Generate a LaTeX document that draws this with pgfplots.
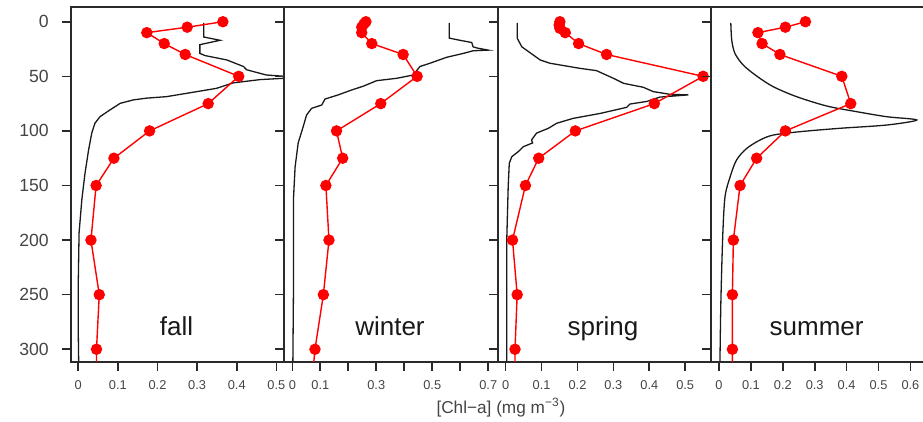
\documentclass[border=0pt]{standalone}
\usepackage{fontspec}
\setmainfont{Liberation Sans}
\usepackage{pgfplots}
\pgfplotsset{compat=1.18}
\definecolor{axgray}{HTML}{2A2A2A}
\definecolor{lblgray}{HTML}{444444}
\pgfplotsset{
  panel/.style={
    scale only axis, width=106.75pt, height=177.35pt,
    anchor=north west,
    y dir=reverse, ymin=-13.5, ymax=311.4,
    ytick={0,50,...,300}, ytick pos=left, xtick pos=bottom,
    tick align=outside, major tick length=4.5pt,
    axis line style={line width=0.8pt, draw=axgray},
    tick style={line width=0.8pt, draw=axgray},
    yticklabels={},
    x tick label style={font=\fontsize{6.4}{7}\selectfont, text=lblgray, yshift=-1.5pt},
    y tick label style={font=\fontsize{8.8}{10}\selectfont, text=lblgray, xshift=-3pt},
    /pgf/number format/assume math mode=true,
  },
  prof/.style={black!90, no marks, line width=0.65pt},
  bottle/.style={red, mark=*, mark size=2.5pt, line width=0.7pt,
    mark options={draw=red, fill=red}},
}
\tikzset{season/.style={anchor=base, font=\fontsize{13}{15}\selectfont, text=black!90}}
\begin{document}
\begin{tikzpicture}
% fall
\begin{axis}[panel, at={(35.375pt,-3.5pt)}, xmin=-0.019, xmax=0.520,
  xtick={0,0.1,0.2,0.3,0.4,0.5}, xticklabels={0,0.1,0.2,0.3,0.4,0.5},
  yticklabels={0,50,100,150,200,250,300}]
\addplot[prof] coordinates {
  (0.317,1) (0.317,14) (0.358,17) (0.307,21) (0.307,29) (0.320,31) (0.375,35)
  (0.417,41) (0.425,44) (0.475,48.8) (0.56,51) (0.459,53) (0.391,56) (0.349,61)
  (0.273,65.6) (0.223,68.6) (0.172,70) (0.139,71.6) (0.106,74.7) (0.080,80.8)
  (0.055,86.9) (0.042,93) (0.034,102) (0.026,117.5) (0.017,138.8) (0.009,163)
  (0.002,193.5) (0.0,239) (0.0,285) (0.001,311)
};
\addplot[bottle] coordinates {
  (0.365,0) (0.275,5) (0.173,10) (0.217,20) (0.270,30) (0.405,50) (0.328,75)
  (0.180,100) (0.090,125) (0.045,150) (0.032,200) (0.053,250) (0.046,300) (0.046,350)
};
\node[season] at (axis cs:0.248,287.4) {fall};
\end{axis}
% winter
\begin{axis}[panel, at={(142.125pt,-3.5pt)}, xmin=-0.0288, xmax=0.734,
  xtick={0,0.1,0.2,0.3,0.4,0.5,0.6,0.7}, xticklabels={0,0.1,,0.3,,0.5,,0.7}]
\addplot[prof] coordinates {
  (0.561,1) (0.561,15) (0.599,17) (0.641,19) (0.646,23) (0.659,24) (0.70,26)
  (0.646,26.6) (0.611,29) (0.551,32.6) (0.492,38) (0.456,41) (0.432,48.8)
  (0.373,51.8) (0.301,54) (0.254,59) (0.212,62.5) (0.164,67) (0.117,70.8)
  (0.105,76.3) (0.069,79.3) (0.051,85.4) (0.039,96) (0.021,111) (0.010,133)
  (0.004,163) (0.004,250) (0.002,311)
};
\addplot[bottle] coordinates {
  (0.263,0) (0.256,2) (0.248,5) (0.248,10) (0.284,20) (0.396,30) (0.446,50)
  (0.316,75) (0.158,100) (0.180,125) (0.120,150) (0.131,200) (0.111,250)
  (0.081,300) (0.063,350)
};
\node[season] at (axis cs:0.349,287.4) {winter};
\end{axis}
% spring
\begin{axis}[panel, at={(248.875pt,-3.5pt)}, xmin=-0.0221, xmax=0.5726,
  xtick={0,0.1,0.2,0.3,0.4,0.5}, xticklabels={0,0.1,0.2,0.3,0.4,0.5}]
\addplot[prof] coordinates {
  (0.032,1) (0.032,15) (0.045,23) (0.077,30.5) (0.096,35) (0.123,38) (0.207,42.7)
  (0.253,44.8) (0.300,51.8) (0.328,56.4) (0.383,60) (0.411,64) (0.458,66.5)
  (0.509,67) (0.430,69) (0.393,73) (0.346,75.4) (0.337,78.4) (0.263,84)
  (0.188,88.5) (0.142,93) (0.119,97.6) (0.086,102) (0.072,108.3) (0.075,111)
  (0.049,114.5) (0.035,119) (0.017,123.6) (0.010,129.7) (0.007,151) (0.003,200)
  (0.003,311)
};
\addplot[bottle] coordinates {
  (0.151,0) (0.149,3) (0.151,6) (0.166,10) (0.203,20) (0.281,30) (0.550,50)
  (0.414,75) (0.194,100) (0.092,125) (0.055,150) (0.019,200) (0.032,250)
  (0.026,300) (0.026,350)
};
\node[season] at (axis cs:0.271,287.4) {spring};
\end{axis}
% summer
\begin{axis}[panel, at={(355.625pt,-3.5pt)}, xmin=-0.0243, xmax=0.645,
  xtick={0,0.1,0.2,0.3,0.4,0.5,0.6}, xticklabels={0,0.1,0.2,0.3,0.4,0.5,0.6}]
\addplot[prof, smooth] coordinates {
  (0.037,1) (0.040,17) (0.050,29) (0.076,39.7) (0.118,49.7) (0.170,59.5)
  (0.244,68.7) (0.338,77.2) (0.432,82.4) (0.526,87) (0.620,90) (0.526,94.6)
  (0.379,97.6) (0.254,100.7) (0.170,103.8) (0.129,108.3) (0.087,116)
  (0.055,126.6) (0.035,142) (0.019,160) (0.012,194) (0.006,255) (0.003,311)
};
\addplot[bottle] coordinates {
  (0.271,0) (0.208,5) (0.122,10) (0.135,20) (0.191,30) (0.385,50) (0.413,75)
  (0.208,100) (0.118,125) (0.066,150) (0.045,200) (0.042,250) (0.042,300)
  (0.042,350)
};
\node[season] at (axis cs:0.306,287.4) {summer};
\end{axis}
\node[anchor=base, font=\fontsize{8.6}{10}\selectfont, text=lblgray]
  at (250.5pt,-207pt) {[Chl−a] (mg m\textsuperscript{−3})};
\pgfresetboundingbox
\useasboundingbox (0,0) rectangle (461.5pt,-211pt);
\end{tikzpicture}
\end{document}
